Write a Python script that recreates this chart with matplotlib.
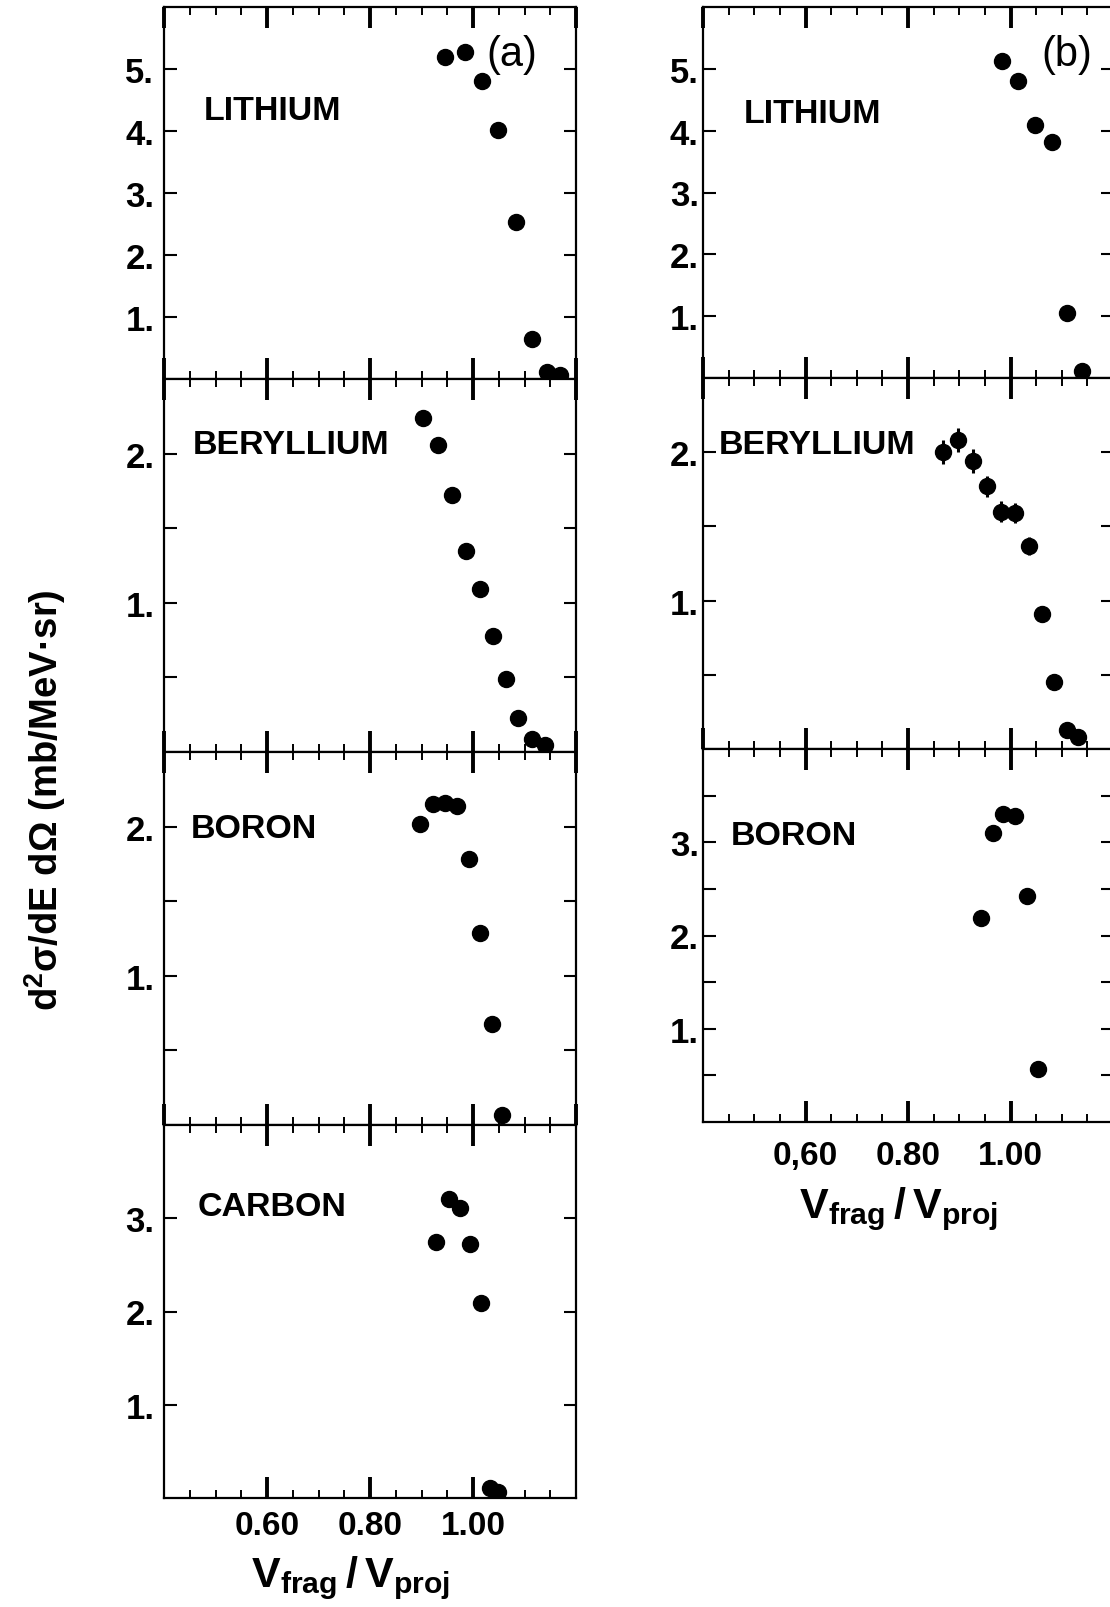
import matplotlib
matplotlib.use("Agg")
import matplotlib.pyplot as plt
from matplotlib.ticker import MultipleLocator

plt.rcParams['font.family'] = ['Liberation Sans', 'DejaVu Sans']
plt.rcParams['mathtext.fontset'] = 'custom'
plt.rcParams['mathtext.rm'] = 'Liberation Sans'
plt.rcParams['mathtext.bf'] = 'Liberation Sans:bold'

# ---- data: V_frag/V_proj vs d2sigma/dE dOmega ----
# (a) column
li_a_x = [0.946, 0.984, 1.017, 1.049, 1.083, 1.114, 1.143, 1.169]
li_a_y = [5.20, 5.27, 4.80, 4.01, 2.54, 0.65, 0.12, 0.07]

be_a_x = [0.903, 0.932, 0.960, 0.987, 1.013, 1.039, 1.064, 1.088, 1.114, 1.140]
be_a_y = [2.24, 2.06, 1.72, 1.35, 1.09, 0.78, 0.49, 0.23, 0.09, 0.05]

b_a_x = [0.898, 0.922, 0.945, 0.969, 0.992, 1.013, 1.036, 1.057]
b_a_y = [2.02, 2.15, 2.16, 2.14, 1.78, 1.29, 0.68, 0.07]

c_a_x = [0.929, 0.954, 0.974, 0.995, 1.015, 1.033, 1.049]
c_a_y = [2.75, 3.21, 3.11, 2.72, 2.09, 0.11, 0.06]

# (b) column
li_b_x = [0.984, 1.015, 1.048, 1.080, 1.110, 1.139]
li_b_y = [5.13, 4.80, 4.09, 3.81, 1.05, 0.12]

be_b_x = [0.869, 0.898, 0.926, 0.954, 0.981, 1.009, 1.036, 1.061, 1.085, 1.110, 1.132]
be_b_y = [2.00, 2.08, 1.94, 1.77, 1.60, 1.59, 1.37, 0.91, 0.45, 0.13, 0.08]
be_b_err = [0.08, 0.08, 0.08, 0.07, 0.07, 0.07, 0.06, 0.05, 0.03, 0.02, 0.02]

b_b_x = [0.942, 0.965, 0.986, 1.009, 1.032, 1.054]
b_b_y = [2.19, 3.10, 3.30, 3.28, 2.42, 0.57]
b_b_err = [0.06, 0.08, 0.08, 0.08, 0.07, 0.04]

W, H = 1110, 1608
fig = plt.figure(figsize=(W / 100, H / 100), dpi=100)


def make_axes(x0, x1, y0, y1):
    # pixel box (top-left origin) -> figure fraction
    return fig.add_axes([x0 / W, 1 - y1 / H, (x1 - x0) / W, (y1 - y0) / H])


def put(x, y, s, **kw):
    # text placed by pixel position, top-left origin
    fig.text(x / W, 1 - y / H, s, **kw)


def style(ax, ymax, ystep, ylabels, xlabels=None, ypad=7):
    ax.set_xlim(0.40, 1.20)
    ax.set_ylim(0, ymax)
    ax.xaxis.set_major_locator(MultipleLocator(0.2))
    ax.xaxis.set_minor_locator(MultipleLocator(0.05))
    ticks = [ystep * k for k in range(1, int(round(ymax / ystep)))]
    ax.set_yticks(ticks)
    ax.set_yticklabels([ylabels.get(round(t, 2), '') for t in ticks],
                       fontsize=25, fontweight='bold')
    ax.tick_params(axis='x', which='major', direction='in', top=True, bottom=True,
                   length=15, width=2.8)
    ax.tick_params(axis='x', which='minor', direction='in', top=True, bottom=True,
                   length=6, width=1.4)
    ax.tick_params(axis='y', direction='in', left=True, right=True,
                   length=9, width=1.5, pad=ypad)
    for s in ax.spines.values():
        s.set_linewidth(1.6)
    if xlabels is None:
        ax.tick_params(axis='x', labelbottom=False)
    else:
        ax.set_xticks([0.6, 0.8, 1.0])
        ax.set_xticklabels(xlabels, fontsize=24, fontweight='bold')


def dots(ax, x, y, err=None):
    if err is None:
        ax.plot(x, y, 'o', color='black', markersize=11.5)
    else:
        ax.errorbar(x, y, yerr=err, fmt='o', color='black', markersize=11.5,
                    elinewidth=2.2, capsize=0)


int_labels = {1.0: '1.', 2.0: '2.', 3.0: '3.', 4.0: '4.', 5.0: '5.'}
tick_a = ['0.60', '0.80', '1.00']
tick_b = ['0,60', '0.80', '1.00']
elem_kw = dict(fontsize=24.5, fontweight='bold', va='center', ha='left')

# ---- column (a) ----
L0, L1 = 164, 576
ax1 = make_axes(L0, L1, 8, 380)
dots(ax1, li_a_x, li_a_y)
style(ax1, 6, 1, int_labels)
put(204, 112, 'LITHIUM', **elem_kw)
put(512, 55, '(a)', fontsize=30, va='center', ha='center')

ax2 = make_axes(L0, L1, 380, 753)
dots(ax2, be_a_x, be_a_y)
style(ax2, 2.5, 0.5, int_labels)
put(193, 446, 'BERYLLIUM', **elem_kw)

ax3 = make_axes(L0, L1, 753, 1126)
dots(ax3, b_a_x, b_a_y)
style(ax3, 2.5, 0.5, int_labels)
put(191, 830, 'BORON', **elem_kw)

ax4 = make_axes(L0, L1, 1126, 1499)
dots(ax4, c_a_x, c_a_y)
style(ax4, 4, 1, int_labels, xlabels=tick_a)
ax4.tick_params(axis='x', which='major', pad=9)
put(198, 1208, 'CARBON', **elem_kw)

# ---- column (b) ----
R0, R1 = 703, 1113
bx1 = make_axes(R0, R1, 8, 379)
dots(bx1, li_b_x, li_b_y)
style(bx1, 6, 1, int_labels, ypad=3)
put(744, 115, 'LITHIUM', **elem_kw)
put(1067, 55, '(b)', fontsize=30, va='center', ha='center')

bx2 = make_axes(R0, R1, 379, 750)
dots(bx2, be_b_x, be_b_y, be_b_err)
style(bx2, 2.5, 0.5, int_labels, ypad=3)
put(719, 446, 'BERYLLIUM', **elem_kw)

bx3 = make_axes(R0, R1, 750, 1123)
dots(bx3, b_b_x, b_b_y, b_b_err)
style(bx3, 4, 0.5, int_labels, xlabels=tick_b, ypad=3)
bx3.tick_params(axis='x', which='major', pad=13)
put(731, 837, 'BORON', **elem_kw)

# ---- axis titles ----
xlab = r'$\mathbf{V_{frag}\,/\,V_{proj}}$'
put(350, 1578, xlab, fontsize=31, ha='center', va='center')
put(898, 1209, xlab, fontsize=31, ha='center', va='center')
put(45, 800, r'd$^{\mathbf{2}}$σ/dE dΩ (mb/MeV·sr)',
    rotation=90, fontsize=27.5, fontweight='bold', ha='center', va='center')

fig.savefig('out.png', dpi=100)
